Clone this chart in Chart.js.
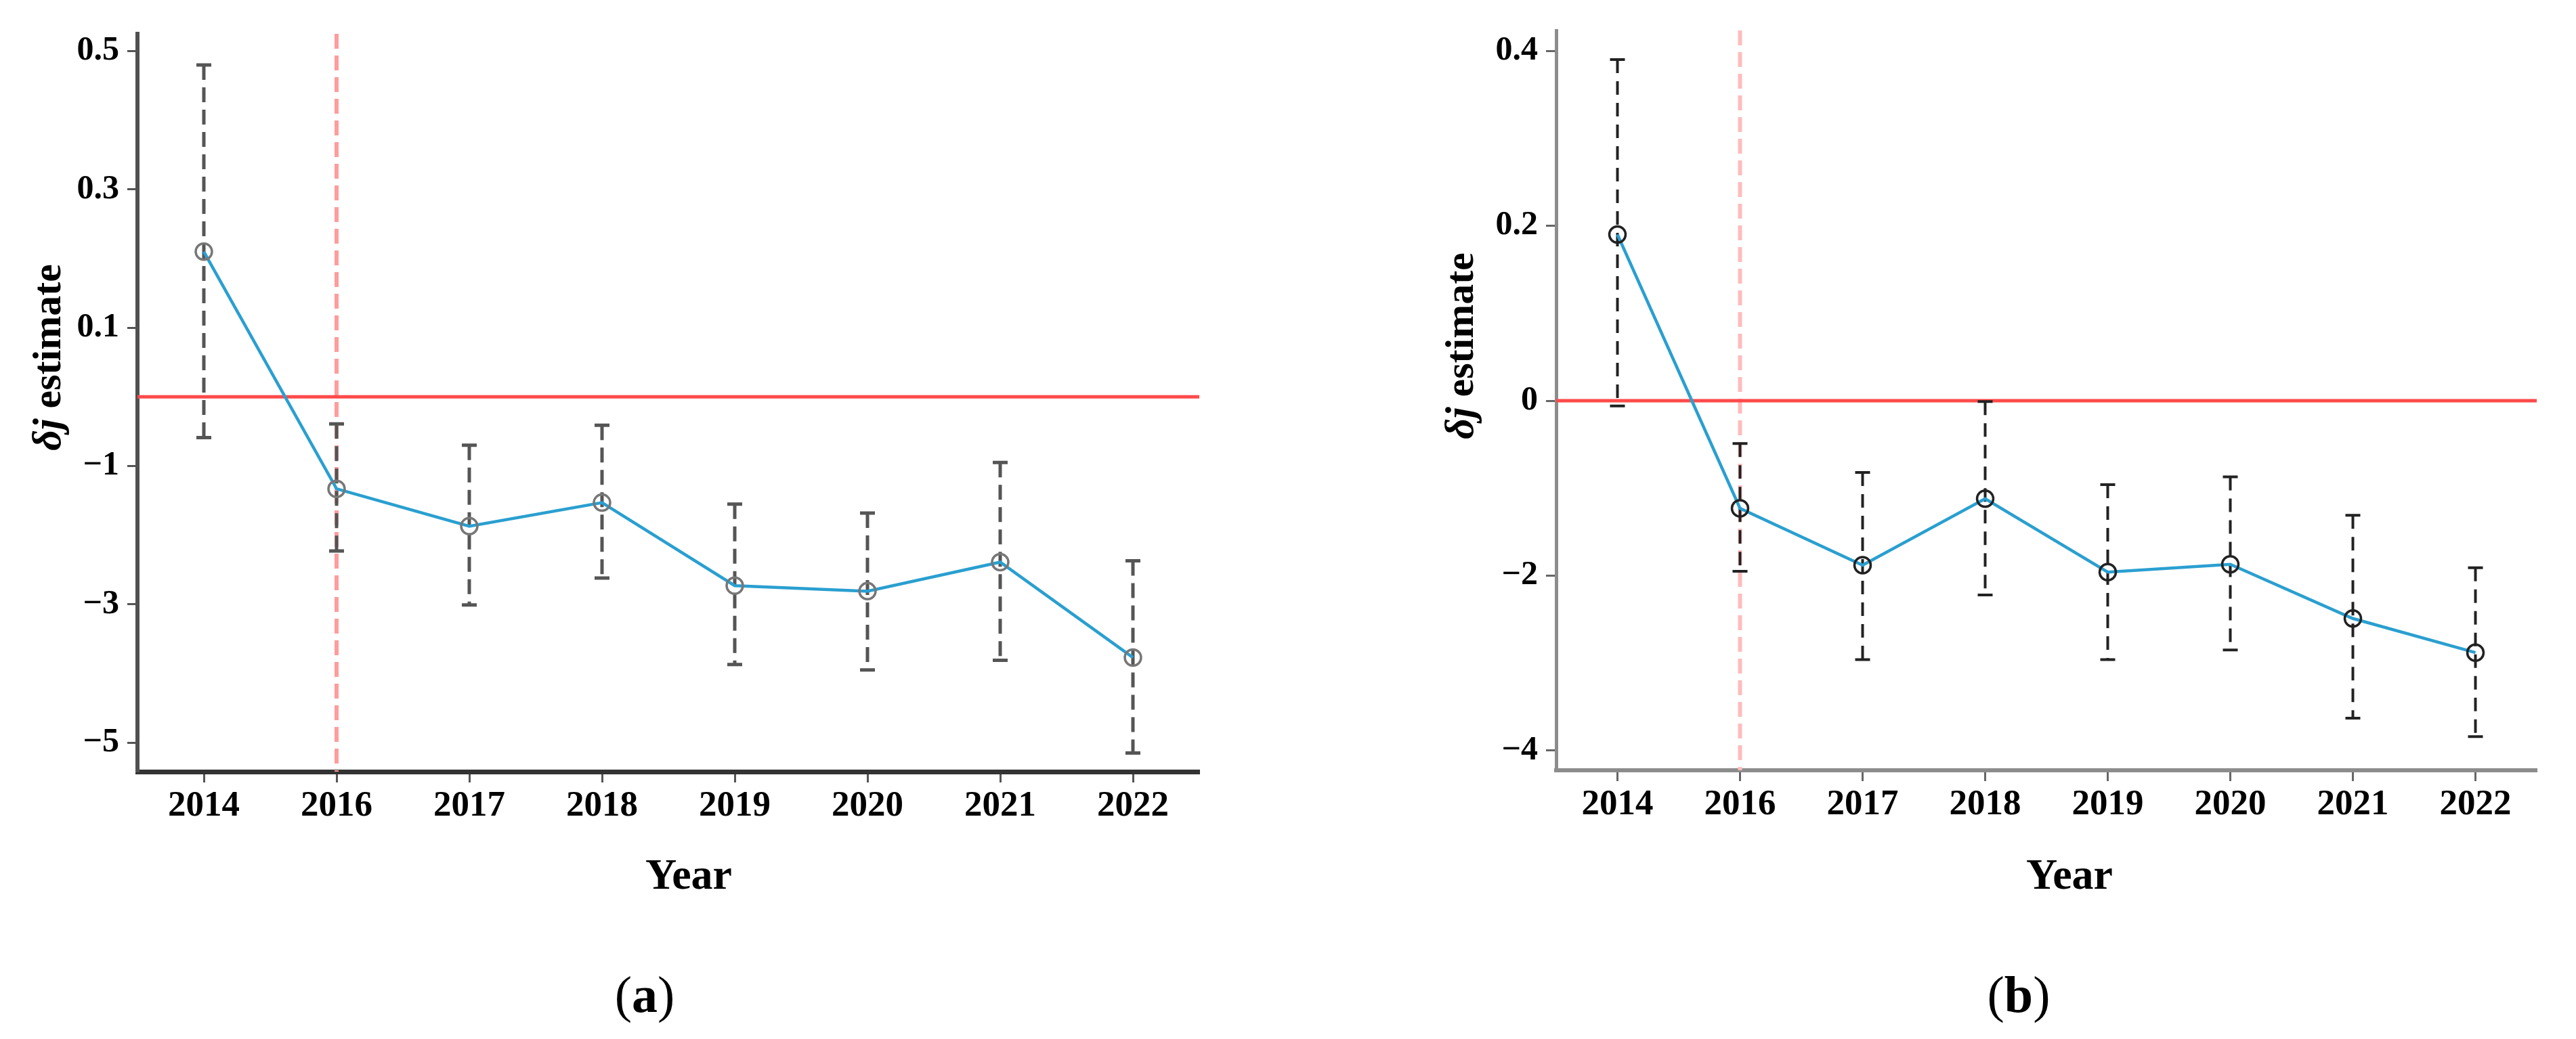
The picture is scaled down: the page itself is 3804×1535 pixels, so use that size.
<!DOCTYPE html>
<html>
<head>
<meta charset="utf-8">
<title>δj estimate</title>
<script src="https://cdn.jsdelivr.net/npm/chart.js@4.4.1/dist/chart.umd.min.js"></script>
<style>
  html, body { margin: 0; padding: 0; background: #fff; }
  body { width: 3804px; height: 1535px; position: relative; overflow: hidden; }
  .panel { position: absolute; top: 0; height: 1535px; }
  #panelA { left: 0; width: 1900px; }
  #panelB { left: 1900px; width: 1904px; }
  .rotulo {
    position: absolute; top: 1431px;
    font-family: 'Liberation Serif', 'Times New Roman', serif;
    font-size: 76px; line-height: 76px; color: #000;
    transform: translateX(-50%); white-space: nowrap;
  }
</style>
</head>
<body>
<div class="panel" id="panelA"><canvas id="chartA" width="1900" height="1535"></canvas></div>
<div class="panel" id="panelB"><canvas id="chartB" width="1904" height="1535"></canvas></div>
<div class="rotulo" style="left:952px">(<b>a</b>)</div>
<div class="rotulo" style="left:2981px">(<b>b</b>)</div>

<script>
// Datos
const years = ['2014', '2016', '2017', '2018', '2019', '2020', '2021', '2022'];
const policyYear = '2016';

// Panel (a)
const estA   = [0.21, -1.33, -1.87, -1.53, -2.73, -2.81, -2.39, -3.77];
const upperA = [0.48, -0.39, -0.70, -0.41, -1.55, -1.68, -0.95, -2.37];
const lowerA = [-0.59, -2.23, -3.01, -2.62, -3.87, -3.95, -3.81, -5.15];
const ticksA = [0.5, 0.3, 0.1, -1, -3, -5];

// Panel (b)
const estB   = [0.19, -1.23, -1.88, -1.12, -1.96, -1.87, -2.49, -2.88];
const upperB = [0.39, -0.49, -0.82, -0.01, -0.96, -0.87, -1.31, -1.91];
const lowerB = [-0.06, -1.95, -2.96, -2.22, -2.96, -2.85, -3.63, -3.84];
const ticksB = [0.4, 0.2, 0, -2, -4];

const FUENTE = "'Liberation Serif', 'Times New Roman', serif";

// Escala "rota": el tramo positivo va estirado x10 (como en la figura original)
class EscalaRota extends Chart.LinearScale {
  getPixelForValue(v) {
    if (v === null || v === undefined) return NaN;
    return super.getPixelForValue(v > 0 ? v * 10 : v);
  }
  getValueForPixel(p) {
    const d = super.getValueForPixel(p);
    return d > 0 ? d / 10 : d;
  }
}
EscalaRota.id = 'rota';
EscalaRota.defaults = Chart.LinearScale.defaults;
Chart.register(EscalaRota);

// Etiquetas del eje y con signo menos tipográfico
function etiquetaY(v) {
  return v < 0 ? '\u2212' + Math.abs(v) : String(v);
}

// Plugin: línea en 0, línea discontinua en 2016, barras de error y títulos
const extras = {
  id: 'extras',
  beforeDatasetsDraw(chart, args, o) {
    const { ctx, chartArea: a, scales: { x, y } } = chart;
    ctx.save();

    // vertical discontinua
    const px = x.getPixelForValue(years.indexOf(policyYear));
    ctx.strokeStyle = o.pink;
    ctx.lineWidth = 6;
    ctx.setLineDash([22, 10]);
    ctx.beginPath();
    ctx.moveTo(px, a.top);
    ctx.lineTo(px, a.bottom);
    ctx.stroke();

    // horizontal roja en cero
    const py = y.getPixelForValue(0);
    ctx.setLineDash([]);
    ctx.strokeStyle = '#ff4a4a';
    ctx.lineWidth = 5;
    ctx.beginPath();
    ctx.moveTo(a.left, py);
    ctx.lineTo(a.right, py);
    ctx.stroke();

    // barras de error
    ctx.strokeStyle = o.barColor;
    ctx.lineWidth = o.barWidth;
    o.lower.forEach(function(lo, i) {
      const bx = x.getPixelForValue(i);
      const yTop = y.getPixelForValue(o.upper[i]);
      const yBot = y.getPixelForValue(lo);
      ctx.setLineDash(o.dash);
      ctx.beginPath();
      ctx.moveTo(bx, yTop);
      ctx.lineTo(bx, yBot);
      ctx.stroke();
      ctx.setLineDash([]);
      ctx.beginPath();
      ctx.moveTo(bx - 11, yTop); ctx.lineTo(bx + 11, yTop);
      ctx.moveTo(bx - 11, yBot); ctx.lineTo(bx + 11, yBot);
      ctx.stroke();
    });
    ctx.restore();
  },
  afterDraw(chart, args, o) {
    const ctx = chart.ctx;
    ctx.save();
    ctx.fillStyle = '#000';
    ctx.textBaseline = 'alphabetic';

    // título del eje y: "δj estimate" (δj en cursiva)
    ctx.translate(o.tituloX, o.tituloY);
    ctx.rotate(-Math.PI / 2);
    const f1 = 'italic bold 60px ' + FUENTE;
    const f2 = 'bold 60px ' + FUENTE;
    ctx.font = f1;
    const w1 = ctx.measureText('δj').width;
    ctx.font = f2;
    const w2 = ctx.measureText(' estimate').width;
    const x0 = -(w1 + w2) / 2;
    ctx.textAlign = 'left';
    ctx.font = f1;
    ctx.fillText('δj', x0, 0);
    ctx.font = f2;
    ctx.fillText(' estimate', x0 + w1, 0);
    ctx.restore();

    // título del eje x
    ctx.save();
    ctx.fillStyle = '#000';
    ctx.font = 'bold 64px ' + FUENTE;
    ctx.textAlign = 'center';
    ctx.textBaseline = 'alphabetic';
    ctx.fillText('Year', o.yearX, o.yearY);
    ctx.restore();
  }
};

function crearPanel(idCanvas, cfg) {
  return new Chart(document.getElementById(idCanvas), {
    type: 'line',
    data: {
      labels: years,
      datasets: [{
        data: cfg.est,
        borderColor: '#2a9fd0',
        borderWidth: 4.5,
        tension: 0,
        pointRadius: 12,
        pointBorderWidth: 3.5,
        pointBorderColor: cfg.marca,
        pointBackgroundColor: 'rgba(0,0,0,0)'
      }]
    },
    options: {
      responsive: false,
      animation: false,
      layout: { padding: { left: 0, top: cfg.top, right: cfg.right, bottom: cfg.bottom } },
      plugins: {
        legend: { display: false },
        tooltip: { enabled: false },
        extras: {
          lower: cfg.lower, upper: cfg.upper,
          barColor: cfg.barColor, barWidth: cfg.barWidth, dash: cfg.dash,
          pink: cfg.pink,
          tituloX: cfg.tituloX, tituloY: cfg.tituloY,
          yearX: cfg.yearX, yearY: 1313
        }
      },
      scales: {
        x: {
          type: 'category',
          offset: true,
          grid: { offset: false, drawOnChartArea: false, tickLength: 16, tickWidth: 3, tickColor: cfg.tickColor },
          border: { color: cfg.ejeX, width: cfg.ejeWidth + 1 },
          ticks: {
            color: '#000', padding: 4, maxRotation: 0, autoSkip: false,
            font: { family: FUENTE, weight: 'bold', size: 53 }
          },
          afterFit: function(s) { s.height = 100; }
        },
        y: {
          type: 'rota',
          min: cfg.min,
          max: cfg.max,
          afterBuildTicks: function(s) { s.ticks = cfg.ticks.map(function(v) { return { value: v }; }); },
          grid: { drawOnChartArea: false, tickLength: 15, tickWidth: 3, tickColor: cfg.tickColor },
          border: { color: cfg.ejeY, width: cfg.ejeWidth },
          ticks: {
            color: '#000', padding: 12, autoSkip: false,
            font: { family: FUENTE, weight: 'bold', size: 50 },
            callback: etiquetaY
          },
          afterFit: function(s) { s.width = cfg.anchoY; }
        }
      }
    },
    plugins: [extras]
  });
}

// Panel (a)
crearPanel('chartA', {
  est: estA, upper: upperA, lower: lowerA, ticks: ticksA,
  min: -5.42, max: 5.25,
  top: 50, right: 129, bottom: 295, anchoY: 203,
  ejeX: '#333', ejeY: '#505050', ejeWidth: 6, tickColor: '#555',
  barColor: '#555', barWidth: 5, dash: [22, 11],
  marca: '#777', pink: '#ff9c9c',
  tituloX: 89, tituloY: 528, yearX: 1017
});

// Panel (b)
crearPanel('chartB', {
  est: estB, upper: upperB, lower: lowerB, ticks: ticksB,
  min: -4.225, max: 4.233,
  top: 45, right: 58, bottom: 297, anchoY: 398,
  ejeX: '#8c8c8c', ejeY: '#8c8c8c', ejeWidth: 5, tickColor: '#666',
  barColor: '#222', barWidth: 4, dash: [20, 12],
  marca: '#222', pink: '#ffbcbc',
  tituloX: 275, tituloY: 511, yearX: 1156
});
</script>
</body>
</html>
